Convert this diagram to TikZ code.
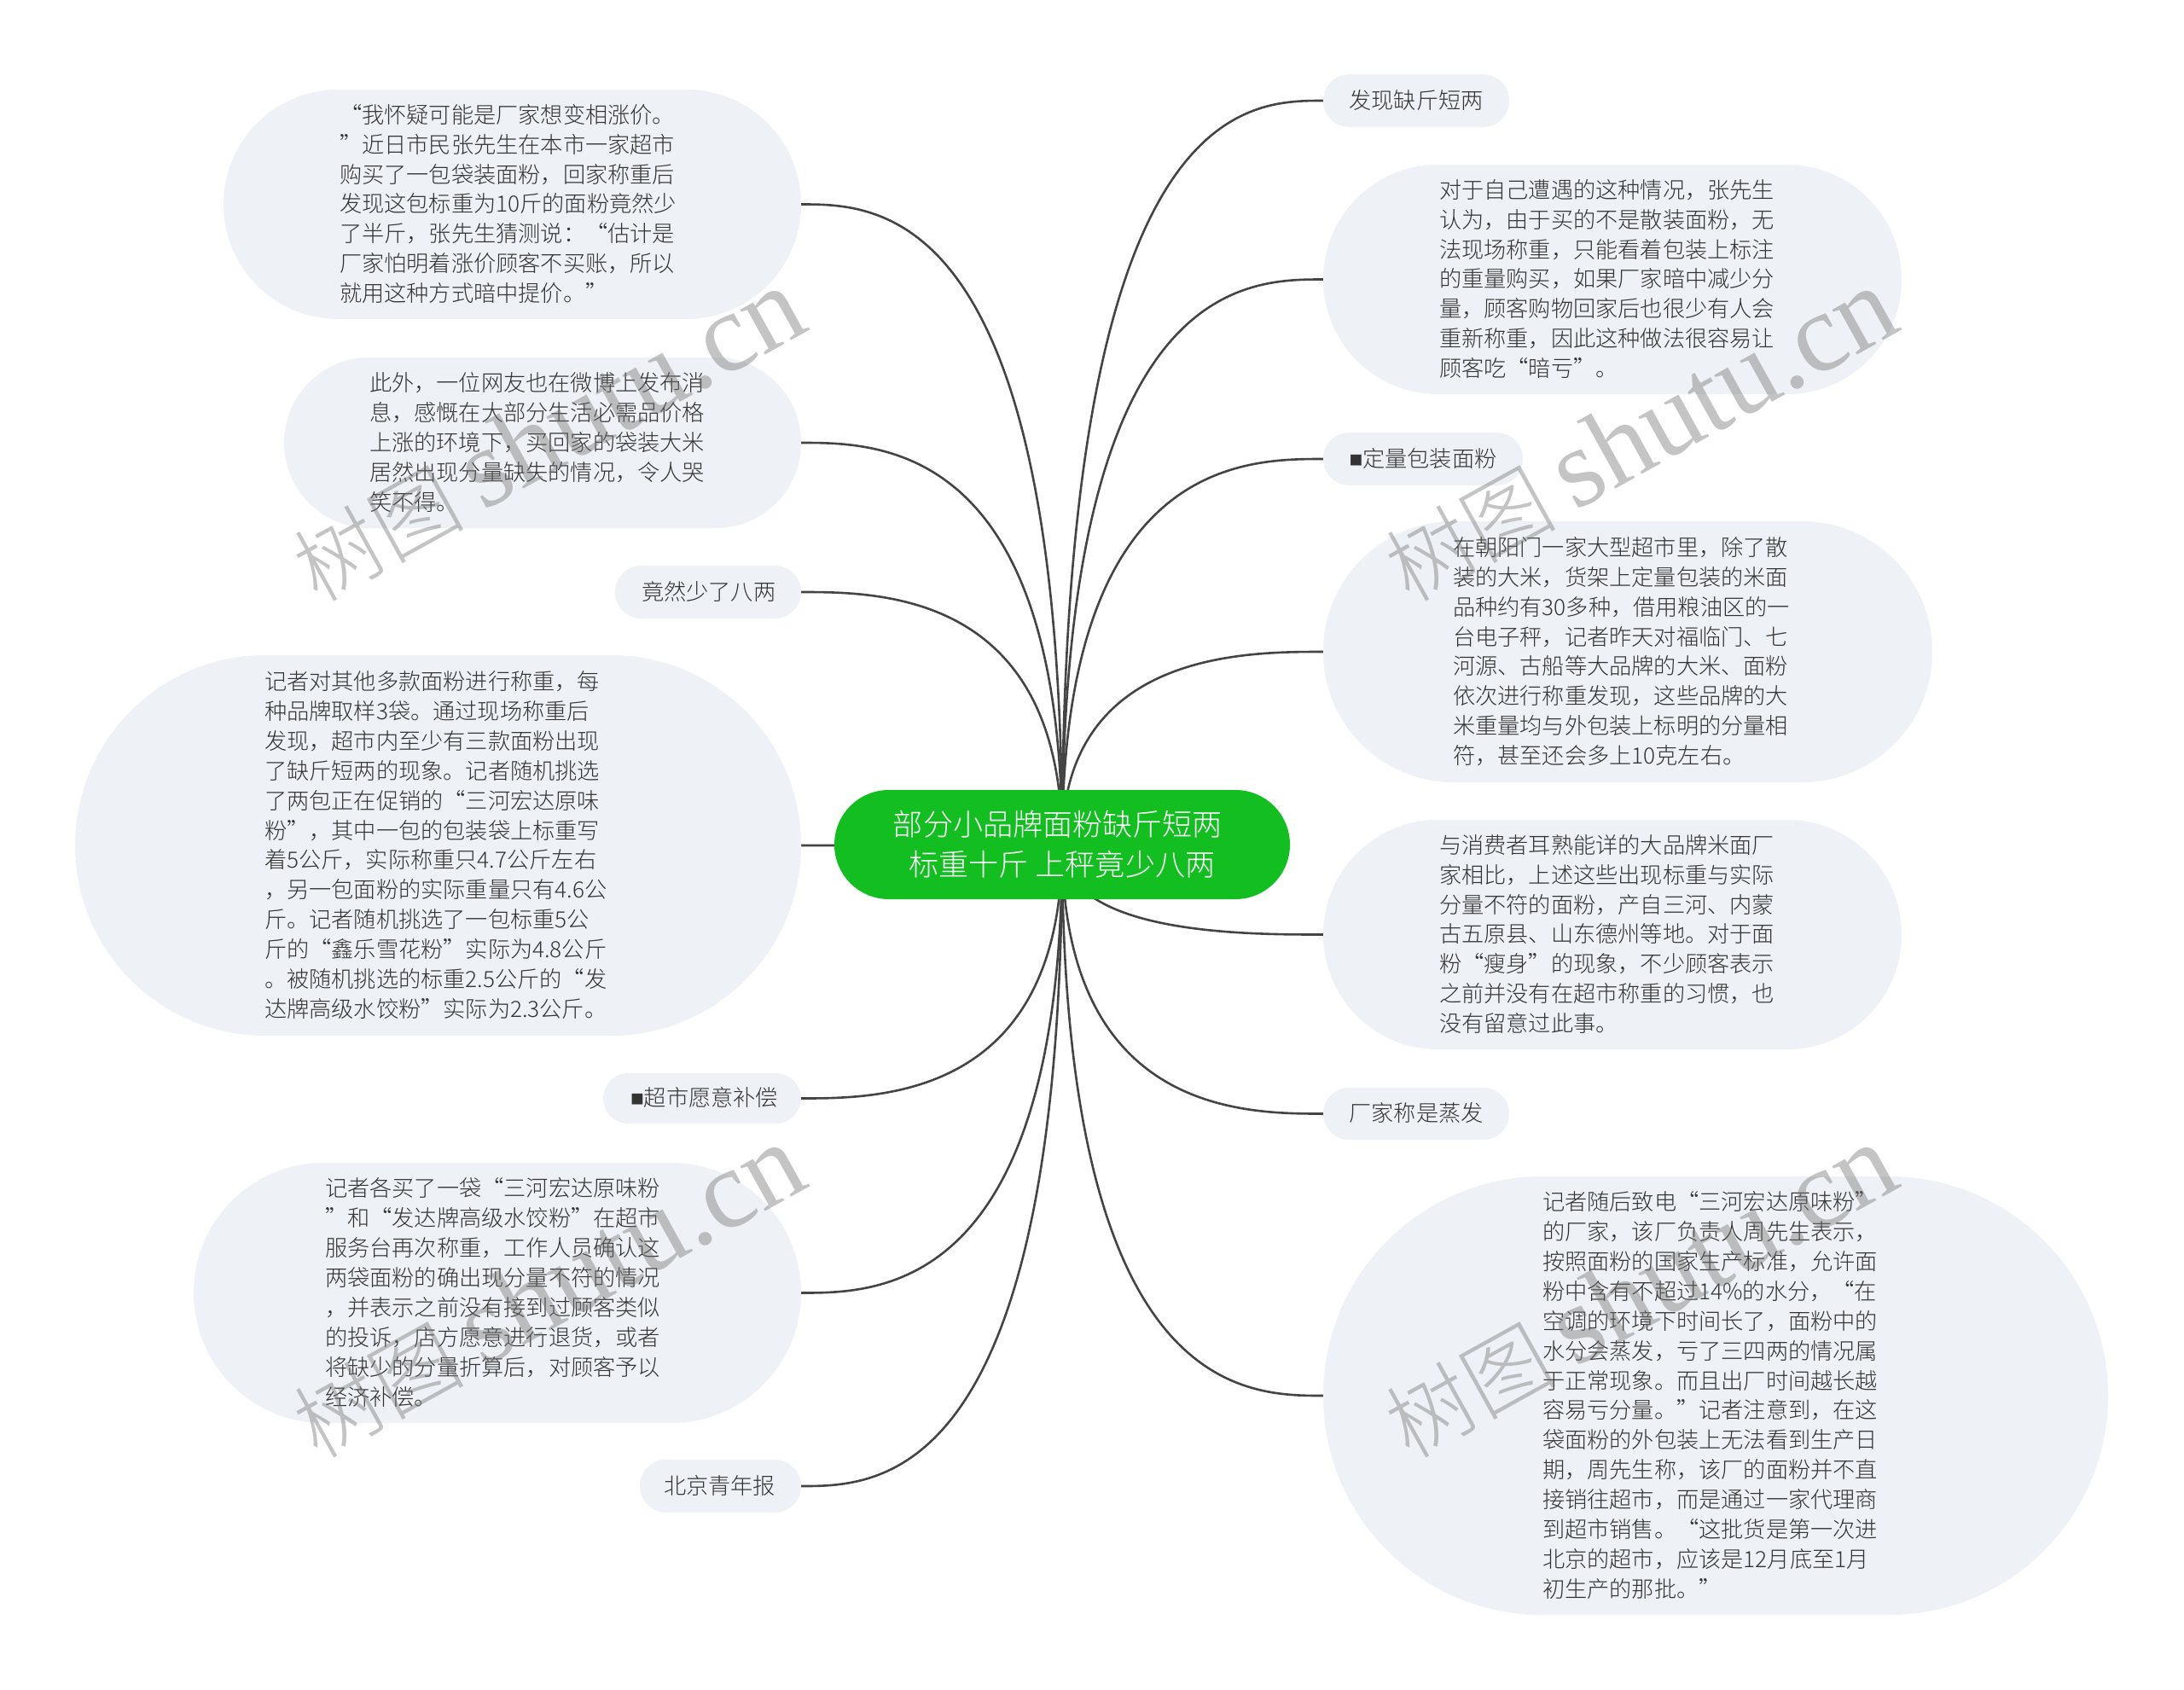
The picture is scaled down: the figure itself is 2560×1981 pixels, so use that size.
\documentclass[tikz,border=0pt]{standalone}
\usepackage{fontspec}
\setmainfont{Noto Sans CJK SC Light}
\newfontfamily\wmlat{Liberation Serif}
\newfontfamily\boxfont{Liberation Sans}
\usetikzlibrary{calc,backgrounds}
\definecolor{pillfill}{HTML}{EEF1F5}
\definecolor{rootfill}{HTML}{13BF20}
\definecolor{linkcol}{HTML}{444444}
\definecolor{txtcol}{HTML}{333333}
\tikzset{
  pill/.style={shape=rectangle,fill=pillfill,inner sep=0pt,text=txtcol,font=\fontsize{26.2}{34.9}\selectfont},
  rootnode/.style={shape=rectangle,fill=rootfill,inner sep=0pt,text=white,align=center,font=\fontsize{35.1}{47}\selectfont},
  link/.style={draw=linkcol,line width=2.6pt},
  wmark/.style={text=black!55,opacity=0.42,rotate=29,inner sep=0pt}
}
% name, x0, y0, x1, y1, text left edge, lines
\newcommand{\pillnode}[7]{%
  \pgfmathsetmacro{\pw}{#4-#2}\pgfmathsetmacro{\ph}{#5-#3}%
  \pgfmathsetmacro{\pr}{0.5*(#5-#3)-0.01}\pgfmathsetmacro{\pi}{#6-#2-1.5}%
  \node[pill,minimum width=\pw pt,minimum height=\ph pt,rounded corners=\pr pt]
    (#1) at ({(#2+#4)/2},{(#3+#5)/2})
    {\makebox[\pw pt][l]{\hspace*{\pi pt}\raisebox{-2.5pt}[\height][\depth]{\begin{tabular}{@{}l@{}}#7\end{tabular}}}};%
}
\newcommand{\wmk}[3]{\node[wmark] (#1) at (#2,#3) {\fontsize{100}{100}\selectfont 树图\hspace{22pt}{\wmlat\fontsize{131}{131}\selectfont shutu.cn}};}
\begin{document}
\begin{tikzpicture}[x=1pt,y=-1pt]
\useasboundingbox (0,0) rectangle (2560,1981);
\node[rootnode,minimum width=534pt,minimum height=128pt,rounded corners=63.9pt] (root) at (1245,990)
  {部分小品牌面粉缺斤短两\hspace{10pt}\null\\标重十斤 上秤竟少八两};

\pillnode{la}{262}{105}{939}{374}{399.5}{“我怀疑可能是厂家想变相涨价。\\”近日市民张先生在本市一家超市\\购买了一包袋装面粉，回家称重后\\发现这包标重为10斤的面粉竟然少\\了半斤，张先生猜测说：“估计是\\厂家怕明着涨价顾客不买账，所以\\就用这种方式暗中提价。”}
\pillnode{lb}{333}{419}{939}{619}{434.5}{此外，一位网友也在微博上发布消\\息，感慨在大部分生活必需品价格\\上涨的环境下，买回家的袋装大米\\居然出现分量缺失的情况，令人哭\\笑不得。}
\pillnode{lc}{721}{663}{939}{725}{753.5}{竟然少了八两}
\pillnode{ld}{88}{768}{939}{1214}{311.5}{记者对其他多款面粉进行称重，每\\种品牌取样3袋。通过现场称重后\\发现，超市内至少有三款面粉出现\\了缺斤短两的现象。记者随机挑选\\了两包正在促销的“三河宏达原味\\粉”，其中一包的包装袋上标重写\\着5公斤，实际称重只4.7公斤左右\\，另一包面粉的实际重量只有4.6公\\斤。记者随机挑选了一包标重5公\\斤的“鑫乐雪花粉”实际为4.8公斤\\。被随机挑选的标重2.5公斤的“发\\达牌高级水饺粉”实际为2.3公斤。}
\pillnode{le}{707}{1258}{939}{1317}{740.5}{{\boxfont ■}超市愿意补偿}
\pillnode{lf}{227}{1363}{939}{1668}{382.5}{记者各买了一袋“三河宏达原味粉\\”和“发达牌高级水饺粉”在超市\\服务台再次称重，工作人员确认这\\两袋面粉的确出现分量不符的情况\\，并表示之前没有接到过顾客类似\\的投诉，店方愿意进行退货，或者\\将缺少的分量折算后，对顾客予以\\经济补偿。}
\pillnode{lg}{750}{1711}{939}{1773}{779.5}{北京青年报}

\pillnode{ra}{1551}{87}{1769}{149}{1583}{发现缺斤短两}
\pillnode{rb}{1551}{193}{2229}{462}{1688.5}{对于自己遭遇的这种情况，张先生\\认为，由于买的不是散装面粉，无\\法现场称重，只能看着包装上标注\\的重量购买，如果厂家暗中减少分\\量，顾客购物回家后也很少有人会\\重新称重，因此这种做法很容易让\\顾客吃“暗亏”。}
\pillnode{rc}{1551}{507}{1785}{569}{1583}{{\boxfont ■}定量包装面粉}
\pillnode{rd}{1551}{611}{2265}{917}{1704.5}{在朝阳门一家大型超市里，除了散\\装的大米，货架上定量包装的米面\\品种约有30多种，借用粮油区的一\\台电子秤，记者昨天对福临门、七\\河源、古船等大品牌的大米、面粉\\依次进行称重发现，这些品牌的大\\米重量均与外包装上标明的分量相\\符，甚至还会多上10克左右。}
\pillnode{re}{1551}{961}{2229}{1230}{1688.5}{与消费者耳熟能详的大品牌米面厂\\家相比，上述这些出现标重与实际\\分量不符的面粉，产自三河、内蒙\\古五原县、山东德州等地。对于面\\粉“瘦身”的现象，不少顾客表示\\之前并没有在超市称重的习惯，也\\没有留意过此事。}
\pillnode{rf}{1551}{1275}{1769}{1336}{1583}{厂家称是蒸发}
\pillnode{rg}{1551}{1379}{2471}{1893}{1809.5}{记者随后致电“三河宏达原味粉”\\的厂家，该厂负责人周先生表示，\\按照面粉的国家生产标准，允许面\\粉中含有不超过14\%的水分，“在\\空调的环境下时间长了，面粉中的\\水分会蒸发，亏了三四两的情况属\\于正常现象。而且出厂时间越长越\\容易亏分量。”记者注意到，在这\\袋面粉的外包装上无法看到生产日\\期，周先生称，该厂的面粉并不直\\接销往超市，而是通过一家代理商\\到超市销售。“这批货是第一次进\\北京的超市，应该是12月底至1月\\初生产的那批。”}

\begin{scope}[on background layer]
\fill[white] (0,0) rectangle (2560,1981);
\foreach \n in {la,lb,lc,ld,le,lf,lg}{
  \draw[link] (root.center) .. controls (root.center |- \n.east) and ($(root.center |- \n.east)!0.7!(\n.east)$) .. (\n.east);
}
\foreach \n in {ra,rb,rc,rd,re,rf,rg}{
  \draw[link] (root.center) .. controls (root.center |- \n.west) and ($(root.center |- \n.west)!0.7!(\n.west)$) .. (\n.west);
}
\end{scope}

\wmk{wa}{642}{510}
\wmk{wb}{1922}{510}
\wmk{wc}{642}{1514}
\wmk{wd}{1922}{1514}
\end{tikzpicture}
\end{document}
